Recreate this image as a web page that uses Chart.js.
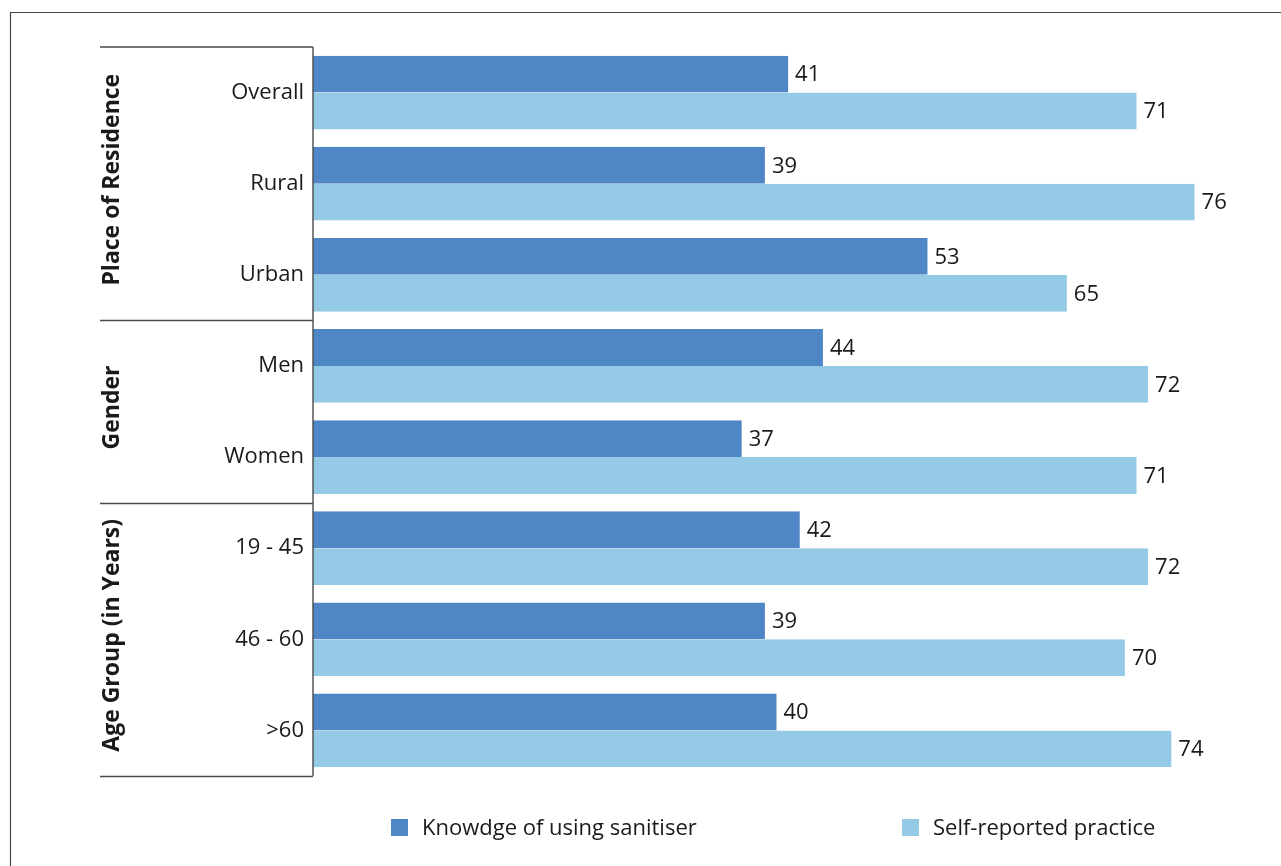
<!DOCTYPE html>
<html>
<head>
<meta charset="utf-8">
<script src="https://cdn.jsdelivr.net/npm/chart.js@4"></script>
<style>
  html, body { margin: 0; padding: 0; background: #fff; }
  #wrap { width: 1281px; height: 866px; position: relative; }
</style>
</head>
<body>
<div id="wrap"><canvas id="chart" width="1281" height="866"></canvas></div>
<script>
const categories = ["Overall", "Rural", "Urban", "Men", "Women", "19 - 45", "46 - 60", ">60"];
const knowledge = [41, 39, 53, 44, 37, 42, 39, 40];
const practice = [71, 76, 65, 72, 71, 72, 70, 74];
const seriesNames = ["Knowdge of using sanitiser", "Self-reported practice"];
// group title, first and last category index
const groups = [
  ["Place of Residence", 0, 2],
  ["Gender", 3, 4],
  ["Age Group (in Years)", 5, 7],
];

const FONT = "'Open Sans', 'Noto Sans', sans-serif";
const DARK = "#4F86C6";
const LIGHT = "#94CAE5";
const INK = "#1a1a1a";
const LINE = "#4a4a4a";

const decor = {
  id: "decor",
  afterDatasetsDraw(chart) {
    const { ctx, chartArea, scales } = chart;
    const y = scales.y;
    const step = (y.getPixelForValue(1) - y.getPixelForValue(0));
    ctx.save();

    // outer frame
    ctx.strokeStyle = LINE;
    ctx.lineWidth = 1.2;
    ctx.beginPath();
    ctx.moveTo(10.5, 866);
    ctx.lineTo(10.5, 12.5);
    ctx.lineTo(1281, 12.5);
    ctx.stroke();

    // group separators and titles
    const left = 100;
    ctx.lineWidth = 1.4;
    ctx.beginPath();
    ctx.moveTo(left, chartArea.top);
    ctx.lineTo(chartArea.left, chartArea.top);
    groups.forEach(([, , last]) => {
      const yy = Math.round(y.getPixelForValue(last) + step / 2) + 0.5;
      ctx.moveTo(left, yy);
      ctx.lineTo(chartArea.left, yy);
    });
    ctx.moveTo(chartArea.left, chartArea.top);
    ctx.lineTo(chartArea.left, chartArea.bottom);
    ctx.stroke();

    ctx.fillStyle = INK;
    ctx.font = "bold 23px " + FONT;
    ctx.textAlign = "center";
    ctx.textBaseline = "middle";
    groups.forEach(([title, first, last]) => {
      const top = y.getPixelForValue(first) - step / 2;
      const bot = y.getPixelForValue(last) + step / 2;
      ctx.save();
      ctx.translate(112, (top + bot) / 2 - 4);
      ctx.rotate(-Math.PI / 2);
      ctx.fillText(title, 0, 0);
      ctx.restore();
    });

    // value labels at bar ends
    ctx.font = "22px " + FONT;
    ctx.textAlign = "left";
    chart.data.datasets.forEach((ds, di) => {
      chart.getDatasetMeta(di).data.forEach((bar, i) => {
        ctx.fillText(String(ds.data[i]), bar.x + 6, bar.y + 1);
      });
    });

    // legend
    const items = [[391, DARK, seriesNames[0]], [902, LIGHT, seriesNames[1]]];
    items.forEach(([x, col, text]) => {
      ctx.fillStyle = col;
      ctx.fillRect(x, 819, 17, 17);
      ctx.fillStyle = INK;
      ctx.fillText(text, x + 31, 829);
    });
    ctx.restore();
  }
};

new Chart(document.getElementById("chart"), {
  type: "bar",
  data: {
    labels: categories,
    datasets: [
      { label: seriesNames[0], data: knowledge, backgroundColor: DARK,
        borderColor: "rgba(255,255,255,0.6)", borderWidth: { right: 1 } },
      { label: seriesNames[1], data: practice, backgroundColor: LIGHT,
        borderColor: "rgba(255,255,255,0.6)", borderWidth: { right: 1 } },
    ]
  },
  options: {
    indexAxis: "y",
    responsive: false,
    animation: false,
    layout: { padding: { top: 47, bottom: 90, right: 39, left: 0 } },
    datasets: { bar: { categoryPercentage: 0.81, barPercentage: 1 } },
    plugins: { legend: { display: false }, tooltip: { enabled: false } },
    scales: {
      x: { display: false, min: 0, max: 80 },
      y: {
        afterFit(scale) { scale.width = 313; },
        grid: { display: false, drawTicks: false },
        border: { display: false },
        ticks: { padding: 9, color: INK, font: { family: FONT, size: 22 } }
      }
    }
  },
  plugins: [decor]
});
</script>
</body>
</html>
